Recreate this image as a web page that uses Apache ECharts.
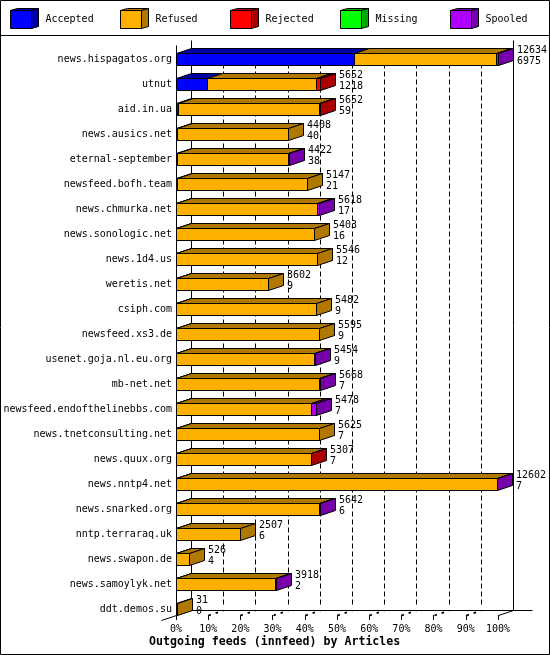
<!DOCTYPE html>
<html>
<head>
<meta charset="utf-8">
<style>html,body{margin:0;padding:0;background:#fff}#c{width:550px;height:655px}</style>
<script src="https://cdn.jsdelivr.net/npm/echarts@6/dist/echarts.min.js"></script>
</head>
<body>
<div id="c"></div>
<script>
const categories = ["news.hispagatos.org","utnut","aid.in.ua","news.ausics.net","eternal-september","newsfeed.bofh.team","news.chmurka.net","news.sonologic.net","news.1d4.us","weretis.net","csiph.com","newsfeed.xs3.de","usenet.goja.nl.eu.org","mb-net.net","newsfeed.endofthelinebbs.com","news.tnetconsulting.net","news.quux.org","news.nntp4.net","news.snarked.org","nntp.terraraq.uk","news.swapon.de","news.samoylyk.net","ddt.demos.su"];
const totals   = [12634,5652,5652,4408,4422,5147,5618,5403,5546,3602,5482,5595,5454,5668,5478,5625,5307,12602,5642,2507,526,3918,31];
const accepted = [6975,1218,59,40,38,21,17,16,12,9,9,9,9,7,7,7,7,7,6,6,4,2,0];
const refused  = [5579,4274,5533,4368,4364,5126,5531,5387,5534,3593,5473,5586,5420,5601,5291,5618,5280,12575,5616,2501,522,3876,31];
const rejected = [0,160,60,0,0,0,0,0,0,0,0,0,0,0,0,0,20,0,0,0,0,0,0];
const missing  = [0,0,0,0,0,0,0,0,0,0,0,0,0,0,0,0,0,0,0,0,0,0,0];
const spooled  = [80,0,0,0,20,0,70,0,0,0,0,0,25,60,180,0,0,20,20,0,0,40,0];
const seriesNames = ["Accepted","Refused","Rejected","Missing","Spooled"];
const seriesValues = [accepted,refused,rejected,missing,spooled];
const frontColors = ["#0000ff","#ffaf00","#ff0000","#00ff00","#af00ff"];
const darkColors  = ["#0000aa","#b07800","#aa0000","#00aa00","#7800aa"];
const xTitle = "Outgoing feeds (innfeed) by Articles";
const percentTicks = [0,10,20,30,40,50,60,70,80,90];
const maxValue = 12634;

const DX = 15, DY = 5, HALF = 6;
const FONT = '"DejaVu Sans Mono", monospace';
const pct = v => v / maxValue * 100;
const px = v => Math.round(v) + 0.5;

function poly(points, fill) {
  return {type:'polygon', shape:{points}, style:{fill, stroke:'#000', lineWidth:1}};
}
function line(x1,y1,x2,y2,dash,width) {
  return {type:'line', shape:{x1,y1,x2,y2}, style:{stroke:'#000', lineWidth:width||1, lineDash:dash||null, fill:null}};
}

const segmentSeries = seriesNames.map((name, s) => {
  const data = [];
  categories.forEach((c, i) => {
    let start = 0;
    for (let k = 0; k < s; k++) start += seriesValues[k][i];
    const v = seriesValues[s][i];
    if (v > 0) {
      let later = 0;
      for (let k = s + 1; k < seriesValues.length; k++) later += seriesValues[k][i];
      data.push([pct(start), pct(start + v), i, later === 0 ? 1 : 0]);
    }
  });
  return {
    type:'custom', name, data, z:3, clip:false, silent:true,
    itemStyle:{color:frontColors[s]},
    encode:{x:[0,1], y:2},
    renderItem(params, api) {
      const a = api.coord([api.value(0), api.value(2)]);
      const b = api.coord([api.value(1), api.value(2)]);
      const x0 = px(a[0]), x1 = px(b[0]), top = px(a[1] - HALF), bot = px(a[1] + HALF);
      const children = [poly([[x0,top],[x0+DX,top-DY],[x1+DX,top-DY],[x1,top]], darkColors[s])];
      if (api.value(3)) children.push(poly([[x1,top],[x1+DX,top-DY],[x1+DX,bot-DY],[x1,bot]], darkColors[s]));
      children.push({type:'rect', shape:{x:x0,y:top,width:x1-x0,height:bot-top}, style:{fill:frontColors[s], stroke:'#000', lineWidth:1}});
      return {type:'group', children};
    }
  };
});

const wallSeries = {
  type:'custom', name:'walls', data:[[0]], z:1, clip:false, silent:true,
  encode:{x:0},
  renderItem(params, api) {
    const last = categories.length - 1;
    const x0 = px(api.coord([0,0])[0]);
    const x100 = px(api.coord([100,0])[0]);
    const first = api.coord([0,0])[1];
    const floor = px(api.coord([0,last])[1] + HALF);
    const top = px(first - 19);
    const children = [
      line(x0, top + DY, x0, floor),
      line(x0 + DX, top, x0 + DX, floor - DY),
      line(x100 + DX, top, x100 + DX, floor - DY),
      line(x0 - DX, floor + DY, x0 + DX, floor - DY),
      line(x100, floor, x100 + DX, floor - DY),
      line(x0 + DX, floor - DY, x100 + DX + 19, floor - DY)
    ];
    percentTicks.slice(1).forEach(p => {
      const x = px(api.coord([p,0])[0]);
      children.push(line(x + DX, floor - DY - 6, x + DX, top + 8, [5,3]));
      children.push(line(x, floor, x + DX, floor - DY, [2.5,5], 1.8));
    });
    return {type:'group', children};
  }
};

const labelSeries = {
  type:'custom', name:'labels', z:4, clip:false, silent:true,
  data: categories.map((c,i) => [pct(totals[i]), i, totals[i], accepted[i]]),
  encode:{x:0, y:1},
  renderItem(params, api) {
    const p = api.coord([api.value(0), api.value(1)]);
    const t = (text, y) => ({type:'text', style:{x:Math.round(p[0]) + DX + 4, y, text:String(text), fill:'#000', font:'10px '+FONT, textVerticalAlign:'middle', textAlign:'left'}});
    return {type:'group', children:[t(api.value(2), p[1]-8.5), t(api.value(3), p[1]+2.5)]};
  }
};

const legends = seriesNames.map((n,i) => ({
  data:[n], left:10+110*i, top:10, padding:0, itemWidth:21, itemHeight:18, selectedMode:false,
  icon:'rect', itemStyle:{borderColor:'#000', borderWidth:1},
  textStyle:{fontFamily:FONT, fontSize:10, color:'#000', padding:[2,0,0,9]}
}));

const legendFaces = [];
seriesNames.forEach((n,i) => {
  const x0 = 10.5+110*i, x1 = x0+21, y0 = 10.5, y1 = 28.5;
  legendFaces.push({type:'polygon', shape:{points:[[x0,y0],[x0+7,y0-2],[x1+7,y0-2],[x1,y0]]}, style:{fill:darkColors[i], stroke:'#000', lineWidth:1}});
  legendFaces.push({type:'polygon', shape:{points:[[x1,y0],[x1+7,y0-2],[x1+7,y1-2],[x1,y1]]}, style:{fill:darkColors[i], stroke:'#000', lineWidth:1}});
});

const chart = echarts.init(document.getElementById('c'), null, {renderer:'canvas'});
chart.setOption({
  animation:false,
  backgroundColor:'#fff',
  title:{text:xTitle, left:149, top:636, padding:0, textStyle:{fontFamily:FONT, fontWeight:'bold', fontSize:11.6, color:'#000', lineHeight:12}},
  legend:legends,
  grid:{left:176, width:322, top:46.5, height:575, containLabel:false},
  xAxis:{type:'value', min:0, max:100, interval:10, offset:-6.5, position:'bottom',
    axisLine:{show:false},
    axisTick:{show:true, length:5, lineStyle:{color:'#000', width:1}},
    splitLine:{show:false},
    axisLabel:{formatter:'{value}%', margin:9, fontFamily:FONT, fontSize:10, color:'#000', showMinLabel:true, showMaxLabel:true, hideOverlap:false}},
  yAxis:{type:'category', inverse:true, data:categories,
    axisLine:{show:false}, axisTick:{show:false}, splitLine:{show:false},
    axisLabel:{margin:4, interval:0, fontFamily:FONT, fontSize:10, color:'#000', align:'right', padding:[2,0,0,0]}},
  graphic:{elements:[
    {type:'rect', silent:true, z:100, shape:{x:0.5,y:0.5,width:549,height:654}, style:{fill:null, stroke:'#000', lineWidth:1}},
    {type:'line', silent:true, z:100, shape:{x1:0,y1:35.5,x2:550,y2:35.5}, style:{stroke:'#000', lineWidth:1}},
    ...legendFaces.map(f => Object.assign({silent:true, z:100}, f))
  ]},
  series:[wallSeries, ...segmentSeries, labelSeries]
});
</script>
</body>
</html>
